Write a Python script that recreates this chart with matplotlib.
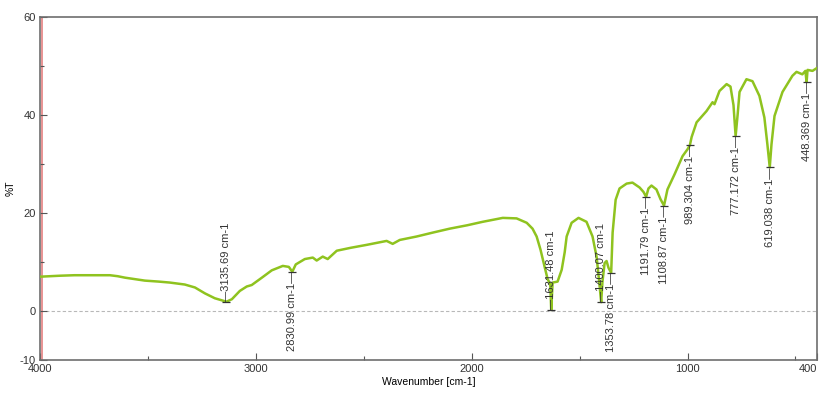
import numpy as np
import matplotlib
matplotlib.use("Agg")
import matplotlib.pyplot as plt
import matplotlib.ticker as mticker
from matplotlib import font_manager

# ── Spectrum (wavenumber cm-1, %T) ───────────────────────────────────────
wavenumber = [
    4000, 3907, 3840, 3769, 3676, 3640, 3606, 3560, 3514, 3450, 3398, 3329,
    3282, 3236, 3190, 3144, 3136, 3111, 3074, 3042, 3019, 2972, 2926, 2875,
    2847, 2831, 2815, 2773, 2736, 2718, 2690, 2667, 2625, 2560, 2486, 2394,
    2366, 2333, 2255, 2180, 2102, 2020, 1949, 1856, 1792, 1745, 1718, 1699,
    1681, 1662, 1648, 1636, 1631.48, 1625, 1602, 1583, 1569, 1560, 1537,
    1505, 1468, 1440, 1421, 1407, 1400.07, 1394, 1384, 1375, 1366, 1353.78,
    1347, 1333, 1315, 1282, 1255, 1222, 1204, 1191.79, 1181, 1167, 1144,
    1125, 1108.87, 1093, 1060, 1023, 1000, 989.304, 981, 958, 912, 884, 875,
    852, 819, 801, 787, 777.172, 768, 759, 727, 699, 667, 644, 630, 619.038,
    611, 597, 560, 514, 495, 468, 454, 448.369, 444, 421, 400,
]
transmittance = [
    7.0, 7.2, 7.3, 7.3, 7.3, 7.1, 6.8, 6.5, 6.2, 6.0, 5.8, 5.4,
    4.8, 3.6, 2.6, 2.0, 1.9, 2.4, 4.1, 5.0, 5.3, 6.8, 8.3, 9.2,
    9.0, 8.0, 9.5, 10.6, 10.9, 10.3, 11.1, 10.6, 12.3, 12.9, 13.5, 14.3,
    13.7, 14.5, 15.2, 16.0, 16.8, 17.5, 18.2, 19.0, 18.9, 18.0, 16.8, 15.2,
    12.5, 9.0, 6.5, 5.5, 0.2, 5.8, 6.0, 8.4, 12.0, 15.2, 18.0,
    19.0, 18.2, 15.2, 11.0, 5.0, 1.8, 6.0, 9.8, 10.2, 8.8, 7.8,
    16.0, 22.7, 25.0, 26.0, 26.2, 25.2, 24.3, 23.3, 25.0, 25.6, 24.8,
    22.8, 21.5, 24.8, 27.9, 31.6, 33.0, 33.8, 35.5, 38.5, 40.8, 42.6, 42.2,
    44.9, 46.3, 45.8, 42.0, 35.7, 40.0, 44.7, 47.3, 46.9, 43.9, 39.5, 34.0, 29.3,
    34.0, 39.8, 44.7, 48.0, 48.8, 48.3, 49.0, 46.7, 49.2, 49.0, 49.6,
]

# Peak picks: position, label, label direction (up = text above the peak)
peak_pos = [3135.69, 2830.99, 1631.48, 1400.07, 1353.78, 1191.79,
            1108.87, 989.304, 777.172, 619.038, 448.369]
peak_text = ["3135.69 cm-1", "2830.99 cm-1", "1631.48 cm-1", "1400.07 cm-1",
             "1353.78 cm-1", "1191.79 cm-1", "1108.87 cm-1", "989.304 cm-1",
             "777.172 cm-1", "619.038 cm-1", "448.369 cm-1"]
peak_up = [True, False, True, True, False, False,
           False, False, False, False, False]

x_ticks = [4000, 3000, 2000, 1000, 400]
y_ticks = [-10, 0, 20, 40, 60]


def _pick_font(names):
    have = {f.name for f in font_manager.fontManager.ttflist}
    return [n for n in names if n in have] + ["DejaVu Sans"]


plt.rcParams.update({
    "font.family": _pick_font(["Liberation Sans Narrow", "Liberation Sans"]),
    "font.size": 8,
    "text.color": "#333333",
    "xtick.color": "#555555",
    "ytick.color": "#555555",
    "xtick.labelcolor": "#333333",
    "ytick.labelcolor": "#333333",
})
label_font = _pick_font(["Liberation Sans"])

LINE = "#8fc31f"
INK = "#333333"

fig = plt.figure(figsize=(8.19, 3.94), dpi=100)
ax = fig.add_axes([0.0488, 0.0863, 0.9488, 0.8706])

wn = np.asarray(wavenumber, dtype=float)
tr = np.asarray(transmittance, dtype=float)

# zero line + left marker line
ax.axhline(0, color="#b8b8b8", lw=0.8, ls=(0, (3, 2)), zorder=1)
ax.axvline(3990, color="#e68a8a", lw=1.3, zorder=1)

ax.plot(wn, tr, color=LINE, lw=1.8, solid_joinstyle="round", zorder=3)

# peak annotations
for p, txt, up in zip(peak_pos, peak_text, peak_up):
    i = int(np.argmin(np.abs(wn - p)))
    y = tr[i]
    ax.plot(wn[i], y, marker="_", ms=6, mew=0.9, color=INK, zorder=4)
    if up:
        ax.text(wn[i], y, "\u2014" + txt, rotation=90, ha="center", va="bottom",
                fontsize=8, family=label_font, color=INK, zorder=5)
    else:
        ax.text(wn[i], y, txt + "\u2014", rotation=90, ha="center", va="top",
                fontsize=8, family=label_font, color=INK, zorder=5)

ax.set_xlim(4000, 400)
ax.set_ylim(-10, 60)

ax.set_xticks(x_ticks)
ax.set_xticklabels([str(t) for t in x_ticks])
ax.get_xticklabels()[-1].set_horizontalalignment("right")
ax.xaxis.set_minor_locator(mticker.FixedLocator([3500, 2500, 1500, 500]))
ax.set_yticks(y_ticks)
ax.set_yticklabels([str(t) for t in y_ticks])
ax.yaxis.set_minor_locator(mticker.FixedLocator([10, 30, 50]))

ax.tick_params(which="both", direction="in", top=False, right=False,
               labelsize=8, pad=3)
ax.tick_params(which="major", length=5, width=0.8)
ax.tick_params(which="minor", length=3, width=0.8)

for s in ax.spines.values():
    s.set_color("#6e6e6e")
    s.set_linewidth(1.2)

ax.set_ylabel("%T", fontsize=7.5)
ax.yaxis.set_label_coords(-0.031, 0.5)
ax.set_xlabel("Wavenumber [cm-1]", fontsize=7.5, labelpad=2)

fig.savefig("out.png", dpi=100)
plt.close(fig)
